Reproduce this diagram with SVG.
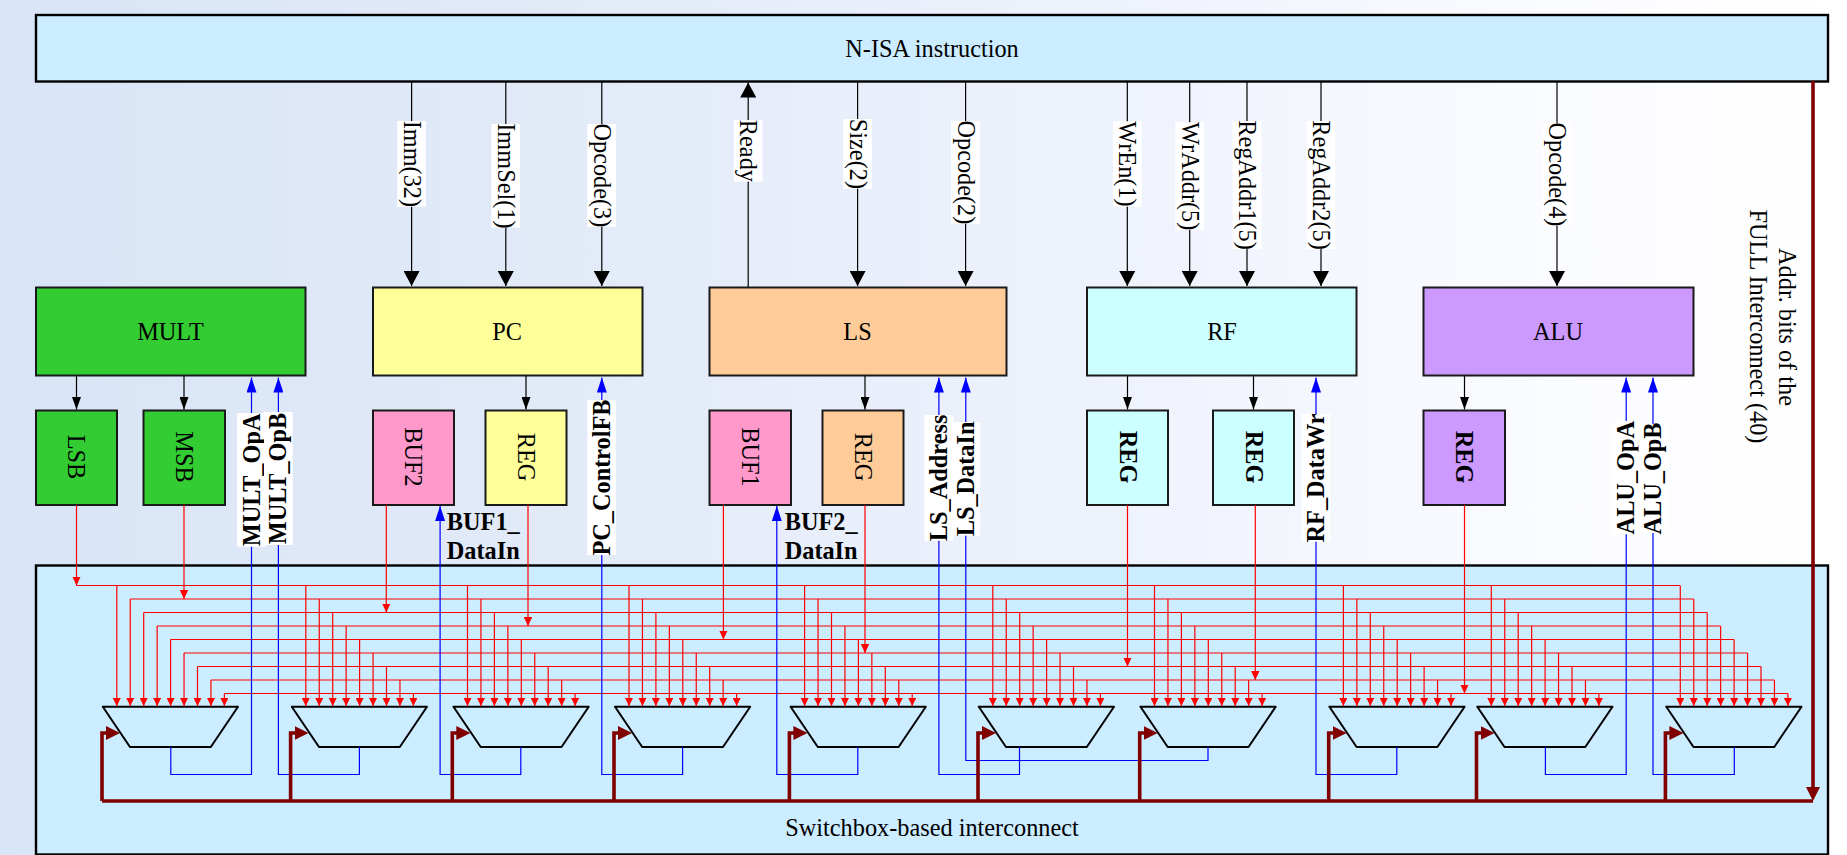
<svg xmlns="http://www.w3.org/2000/svg" xmlns:xlink="http://www.w3.org/1999/xlink" width="1847" height="855" viewBox="0 0 1847 855">
<style>
text{font-family:"Liberation Serif","Times New Roman",serif;font-size:24.3px;fill:#000;text-anchor:middle}
.b{font-weight:bold}
.st{text-anchor:start}
.box{stroke:#1a1a1a;stroke-width:2}
.panel{fill:#ccecff;stroke:#000;stroke-width:2.4}
.mux{fill:#ccecff;stroke:#000;stroke-width:2;stroke-linejoin:round}
.r,.u,.k,.t,.bu,.d{fill:none}
.r{stroke:#f00;stroke-width:1.2}
.dr{marker-end:url(#aR)}
.dd{marker-end:url(#aRs)}
.u{stroke:#00f;stroke-width:1.2;marker-end:url(#aB)}
.k{stroke:#000;stroke-width:1.2;marker-end:url(#aKs)}
.t{stroke:#000;stroke-width:1.2;marker-end:url(#aK)}
.d{stroke:#800000;stroke-width:3.6}
.dm{marker-end:url(#aD)}
.lab{fill:#fff;stroke:none}
</style>
<defs>
<linearGradient id="bg" x1="0" y1="0" x2="1" y2="0">
<stop offset="0" stop-color="#d8e5f6"/><stop offset=".3" stop-color="#e2eaf8"/><stop offset=".6" stop-color="#eef2fc"/><stop offset=".85" stop-color="#fbfcff"/><stop offset="1" stop-color="#fff"/>
</linearGradient>
<marker id="aR" viewBox="0 0 8 8" refX="8" refY="4" markerWidth="8" markerHeight="8" orient="auto" markerUnits="userSpaceOnUse"><path d="M0 0L8 4L0 8z" fill="#f00"/></marker>
<marker id="aRs" viewBox="0 0 9 8.4" refX="9" refY="4.2" markerWidth="9" markerHeight="8.4" orient="auto" markerUnits="userSpaceOnUse"><path d="M0 0L9 4.2L0 8.4z" fill="#f00"/></marker>
<marker id="aB" viewBox="0 0 15 10" refX="15" refY="5" markerWidth="15" markerHeight="10" orient="auto" markerUnits="userSpaceOnUse"><path d="M0 0L15 5L0 10z" fill="#00f"/></marker>
<marker id="aK" viewBox="0 0 15 16" refX="15" refY="8" markerWidth="15" markerHeight="16" orient="auto" markerUnits="userSpaceOnUse"><path d="M0 0L15 8L0 16z" fill="#000"/></marker>
<marker id="aKs" viewBox="0 0 12.5 9" refX="12.5" refY="4.5" markerWidth="12.5" markerHeight="9" orient="auto" markerUnits="userSpaceOnUse"><path d="M0 0L12.5 4.5L0 9z" fill="#000"/></marker>
<marker id="aD" viewBox="0 0 14 14" refX="1" refY="7" markerWidth="14" markerHeight="14" orient="auto" markerUnits="userSpaceOnUse"><path d="M0 0L14 7L0 14z" fill="#800000"/></marker>
<marker id="aDv" viewBox="0 0 14 14" refX="3" refY="7" markerWidth="14" markerHeight="14" orient="auto" markerUnits="userSpaceOnUse"><path d="M0 0L14 7L0 14z" fill="#800000"/></marker>
<g id="inputs">
<path class="r dr" d="M14 585.5V706"/><path class="r dr" d="M27.45 599V706"/><path class="r dr" d="M40.9 612.5V706"/><path class="r dr" d="M54.35 626V706"/><path class="r dr" d="M67.8 639.5V706"/><path class="r dr" d="M81.25 653V706"/><path class="r dr" d="M94.7 666.5V706"/><path class="r dr" d="M108.15 680V706"/><path class="r dr" d="M121.6 693.5V706"/>
</g>
<path id="muxShape" class="mux" d="M0 0H135.2L108 40.3H27.2z"/>
</defs>
<rect id="background" width="1847" height="855" fill="url(#bg)"/>

<g id="n-isa"><rect class="panel" x="36" y="15" width="1792" height="66.5"/><text x="932" y="57">N-ISA instruction</text></g>
<g id="interconnect"><rect class="panel" x="36" y="565.5" width="1792" height="289"/><text x="932" y="836">Switchbox-based interconnect</text></g>

<g id="mult"><rect class="box" x="36" y="287.5" width="269.5" height="88" fill="#33cc33"/><text x="170.5" y="340">MULT</text></g>
<g id="lsb"><rect class="box" x="36" y="410.5" width="81" height="94.5" fill="#33cc33"/><text transform="translate(68,457) rotate(90)">LSB</text></g>
<g id="msb"><rect class="box" x="143.5" y="410.5" width="81.5" height="94.5" fill="#33cc33"/><text transform="translate(176,457) rotate(90)">MSB</text></g>
<g id="pc"><rect class="box" x="373" y="287.5" width="269.5" height="88" fill="#ffff99"/><text x="507" y="340">PC</text></g>
<g id="buf2"><rect class="box" x="373" y="410.5" width="81" height="94.5" fill="#ff99cc"/><text transform="translate(405,457) rotate(90)">BUF2</text></g>
<g id="reg-pc"><rect class="box" x="485.5" y="410.5" width="81" height="94.5" fill="#ffff99"/><text transform="translate(518,457) rotate(90)">REG</text></g>
<g id="ls"><rect class="box" x="709.5" y="287.5" width="297" height="88" fill="#ffcc99"/><text x="857.5" y="340">LS</text></g>
<g id="buf1"><rect class="box" x="709.5" y="410.5" width="81.5" height="94.5" fill="#ff99cc"/><text transform="translate(742,457) rotate(90)">BUF1</text></g>
<g id="reg-ls"><rect class="box" x="822.5" y="410.5" width="81" height="94.5" fill="#ffcc99"/><text transform="translate(855,457) rotate(90)">REG</text></g>
<g id="rf"><rect class="box" x="1087" y="287.5" width="269.5" height="88" fill="#ccffff"/><text x="1222" y="340">RF</text></g>
<g id="reg-rf1"><rect class="box" x="1087" y="410.5" width="81" height="94.5" fill="#ccffff"/><text class="b" transform="translate(1120,457) rotate(90)">REG</text></g>
<g id="reg-rf2"><rect class="box" x="1213" y="410.5" width="81" height="94.5" fill="#ccffff"/><text class="b" transform="translate(1246,457) rotate(90)">REG</text></g>
<g id="alu"><rect class="box" x="1423.5" y="287.5" width="270" height="88" fill="#cc99ff"/><text x="1558" y="340">ALU</text></g>
<g id="reg-alu"><rect class="box" x="1423.5" y="410.5" width="81.5" height="94.5" fill="#cc99ff"/><text class="b" transform="translate(1456,457) rotate(90)">REG</text></g>

<g id="mux1"><use xlink:href="#muxShape" x="102.8" y="706.7"/></g>
<g id="mux2"><use xlink:href="#muxShape" x="291.8" y="706.7"/></g>
<g id="mux3"><use xlink:href="#muxShape" x="453.5" y="706.7"/></g>
<g id="mux4"><use xlink:href="#muxShape" x="615" y="706.7"/></g>
<g id="mux5"><use xlink:href="#muxShape" x="790.6" y="706.7"/></g>
<g id="mux6"><use xlink:href="#muxShape" x="978.8" y="706.7"/></g>
<g id="mux7"><use xlink:href="#muxShape" x="1140.5" y="706.7"/></g>
<g id="mux8"><use xlink:href="#muxShape" x="1329.4" y="706.7"/></g>
<g id="mux9"><use xlink:href="#muxShape" x="1477.3" y="706.7"/></g>
<g id="mux10"><use xlink:href="#muxShape" x="1666.3" y="706.7"/></g>

<g id="connectors">
<g id="instruction-signals">
<path class="t" d="M411.6 81.5V286"/><path class="t" d="M505.8 81.5V286"/><path class="t" d="M601.8 81.5V286"/>
<path class="t" d="M748.2 287V82.5"/><path class="t" d="M857.6 81.5V286"/><path class="t" d="M965.6 81.5V286"/>
<path class="t" d="M1127.3 81.5V286"/><path class="t" d="M1189.7 81.5V286"/><path class="t" d="M1247 81.5V286"/><path class="t" d="M1321 81.5V286"/>
<path class="t" d="M1557 81.5V286"/>
</g>
<g id="unit-to-reg">
<path class="k" d="M76.5 375.5V409.5"/><path class="k" d="M184 375.5V409.5"/><path class="k" d="M526 375.5V409.5"/><path class="k" d="M865 375.5V409.5"/><path class="k" d="M1127.5 375.5V409.5"/><path class="k" d="M1253.5 375.5V409.5"/><path class="k" d="M1464.5 375.5V409.5"/>
</g>
<g id="rails">
<path class="r" d="M76.5 585.5H1680"/><path class="r" d="M130.3 599H1693.6"/><path class="r" d="M143.7 612.5H1707"/><path class="r" d="M157.2 626H1720.5"/><path class="r" d="M170.6 639.5H1734"/><path class="r" d="M184 653H1747.4"/><path class="r" d="M197.5 666.5H1760.9"/><path class="r" d="M211 680H1774.4"/><path class="r" d="M224.4 693.5H1788"/>
</g>
<g id="sources">
<path class="r dd" d="M76.5 505V585.5"/><path class="r dd" d="M184 505V599"/><path class="r dd" d="M386.3 505V612.5"/><path class="r dd" d="M528 505V626"/><path class="r dd" d="M723.4 505V639.5"/><path class="r dd" d="M865 505V653"/><path class="r dd" d="M1127.5 505V666.5"/><path class="r dd" d="M1255.3 505V680"/><path class="r dd" d="M1464.5 505V693.5"/>
</g>
<g id="mux-inputs">
<use xlink:href="#inputs" x="102.8"/><use xlink:href="#inputs" x="291.8"/><use xlink:href="#inputs" x="453.5"/><use xlink:href="#inputs" x="615"/><use xlink:href="#inputs" x="790.6"/><use xlink:href="#inputs" x="978.8"/><use xlink:href="#inputs" x="1140.5"/><use xlink:href="#inputs" x="1329.4"/><use xlink:href="#inputs" x="1477.3"/><use xlink:href="#inputs" x="1666.3"/>
</g>
<g id="mux-outputs">
<path class="u" d="M170.8 747V774.5H251.5V377.5"/>
<path class="u" d="M359.4 747V774.5H278.4V377.5"/>
<path class="u" d="M520.8 747V774.5H440.1V506"/>
<path class="u" d="M682.6 747V774.5H601.8V377.5"/>
<path class="u" d="M857.8 747V774.5H776.8V506"/>
<path class="u" d="M1019.5 747V774.5H938.9V377.5"/>
<path class="u" d="M1208 747V760.5H965.8V377.5"/>
<path class="u" d="M1396.8 747V774.5H1316V377.5"/>
<path class="u" d="M1545.4 747V774.5H1626.2V377.5"/>
<path class="u" d="M1734.3 747V774.5H1653V377.5"/>
</g>
<g id="address-bus">
<path class="d" d="M102 801H1813"/>
<path class="d" style="marker-end:url(#aDv)" d="M1813 81V790"/>
<path class="d dm" d="M102 801V733H107"/><path class="d dm" d="M290.6 801V733H295.6"/><path class="d dm" d="M452.3 801V733H457.3"/><path class="d dm" d="M614 801V733H619"/><path class="d dm" d="M789.4 801V733H794.4"/><path class="d dm" d="M978 801V733H983"/><path class="d dm" d="M1139.7 801V733H1144.7"/><path class="d dm" d="M1328.7 801V733H1333.7"/><path class="d dm" d="M1476.5 801V733H1481.5"/><path class="d dm" d="M1665.4 801V733H1670.4"/>
</g>
<g id="connector-labels">
<rect class="lab" x="397.2" y="121" width="28.7" height="85.7"/><text transform="translate(403.6,163.9) rotate(90)">Imm(32)</text>
<rect class="lab" x="491.4" y="124" width="28.7" height="103.7"/><text transform="translate(497.8,175.9) rotate(90)">ImmSel(1)</text>
<rect class="lab" x="587.4" y="124" width="28.7" height="102.7"/><text transform="translate(593.8,175.4) rotate(90)">Opcode(3)</text>
<rect class="lab" x="733.8" y="120" width="28.7" height="61.7"/><text transform="translate(740.2,150.9) rotate(90)">Ready</text>
<rect class="lab" x="843.2" y="119" width="28.7" height="69.7"/><text transform="translate(849.6,153.9) rotate(90)">Size(2)</text>
<rect class="lab" x="951.2" y="121" width="28.7" height="102.7"/><text transform="translate(957.6,172.4) rotate(90)">Opcode(2)</text>
<rect class="lab" x="1113" y="121.3" width="28.7" height="85.4"/><text transform="translate(1119.3,164) rotate(90)">WrEn(1)</text>
<rect class="lab" x="1175.3" y="122.3" width="28.7" height="107.7"/><text transform="translate(1181.7,176.2) rotate(90)">WrAddr(5)</text>
<rect class="lab" x="1232.6" y="121" width="28.7" height="128"/><text transform="translate(1239,185) rotate(90)">RegAddr1(5)</text>
<rect class="lab" x="1306.6" y="121" width="28.7" height="128"/><text transform="translate(1313,185) rotate(90)">RegAddr2(5)</text>
<rect class="lab" x="1542.6" y="123.3" width="28.7" height="102.4"/><text transform="translate(1549,174.5) rotate(90)">Opcode(4)</text>

<rect class="lab" x="237.1" y="413" width="28.7" height="133.7"/><text class="b" transform="translate(259.5,479.9) rotate(-90)">MULT_OpA</text>
<rect class="lab" x="264" y="412" width="28.7" height="133"/><text class="b" transform="translate(286.4,478.5) rotate(-90)">MULT_OpB</text>
<rect class="lab" x="587.4" y="400" width="28.7" height="155"/><text class="b" transform="translate(609.8,477.5) rotate(-90)">PC_ControlFB</text>
<rect class="lab" x="924.5" y="415" width="28.7" height="125.7"/><text class="b" transform="translate(946.9,477.9) rotate(-90)">LS_Address</text>
<rect class="lab" x="951.4" y="422" width="28.7" height="113.7"/><text class="b" transform="translate(973.8,478.9) rotate(-90)">LS_DataIn</text>
<rect class="lab" x="1301.6" y="414" width="28.7" height="127.7"/><text class="b" transform="translate(1324,477.9) rotate(-90)">RF_DataWr</text>
<rect class="lab" x="1611.8" y="421" width="28.7" height="113.3"/><text class="b" transform="translate(1634.2,477.7) rotate(-90)">ALU_OpA</text>
<rect class="lab" x="1638.6" y="424" width="28.7" height="109"/><text class="b" transform="translate(1661,478.5) rotate(-90)">ALU_OpB</text>
<text class="b st" x="446.8" y="530">BUF1_</text><text class="b st" x="446.8" y="558.5">DataIn</text>
<text class="b st" x="784.7" y="530">BUF2_</text><text class="b st" x="784.7" y="558.5">DataIn</text>
<text transform="translate(1779,327) rotate(90)">Addr. bits of the</text>
<text transform="translate(1750,326.5) rotate(90)">FULL Interconnect (40)</text>
</g>
</g>
</svg>
